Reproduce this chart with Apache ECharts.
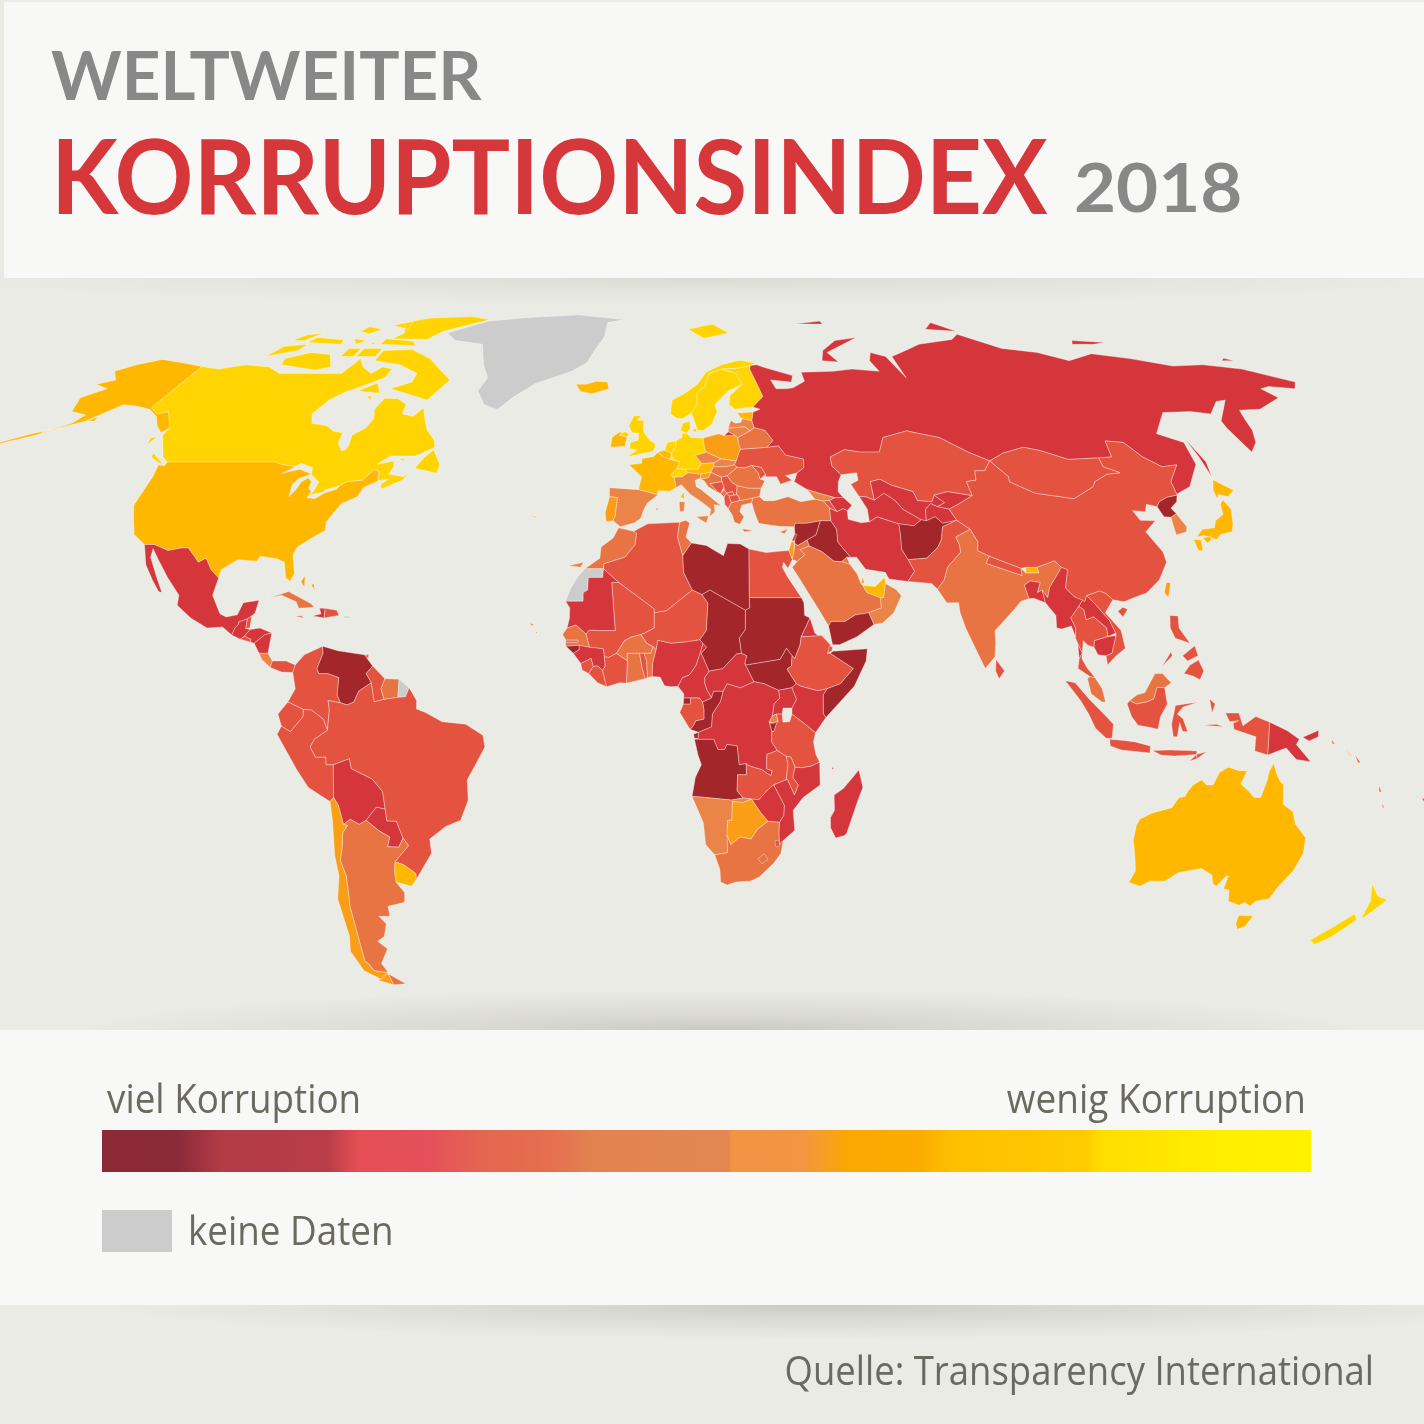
<!DOCTYPE html>
<html>
<head>
<meta charset="utf-8">
<title>Weltweiter Korruptionsindex 2018</title>
<script src="https://cdn.jsdelivr.net/npm/echarts@6/dist/echarts.min.js"></script>
<style>html,body{margin:0;padding:0;background:#ebebe5}#chart{width:1424px;height:1424px}</style>
</head>
<body>
<div id="chart"></div>
<script>
// index values by region
var americaNames = ['Canada','Alaska','United States','Mexico','Guatemala','Belize','El Salvador','Honduras','Nicaragua','Costa Rica','Panama','Cuba','Haiti','Dominican Rep.','Jamaica','Bahamas','Trinidad','Colombia','Venezuela','Guyana','Suriname','Ecuador','Peru','Bolivia','Paraguay','Brazil','Uruguay','Argentina','Chile'];
var americaScores = [81,71,71,28,27,37,35,29,25,56,37,47,20,30,44,65,41,36,18,37,43,34,35,29,29,35,70,40,67];
var europeNames = ['Iceland','Norway','Sweden','Finland','Denmark','United Kingdom','Ireland','France','Spain','Portugal','Belgium','Netherlands','Luxembourg','Germany','Switzerland','Austria','Italy','Poland','Czechia','Slovakia','Hungary','Slovenia','Croatia','Bosnia','Serbia','Kosovo','Montenegro','Albania','N. Macedonia','Greece','Bulgaria','Romania','Moldova','Ukraine','Belarus','Lithuania','Latvia','Estonia','Russia','Cyprus'];
var europeScores = [76,84,85,85,88,80,73,72,58,64,75,82,81,80,85,76,52,60,59,50,46,60,48,38,39,37,45,36,37,45,42,47,33,32,44,59,58,73,28,59];
var asiaNames = ['Georgia','Armenia','Azerbaijan','Turkey','Syria','Lebanon','Israel','Jordan','Iraq','Iran','Kuwait','Saudi Arabia','Qatar','UAE','Oman','Yemen','Kazakhstan','Turkmenistan','Uzbekistan','Kyrgyzstan','Tajikistan','Afghanistan','Pakistan','India','Nepal','Bhutan','Bangladesh','China','Taiwan','Mongolia','North Korea','South Korea','Japan','Myanmar','Laos','Thailand','Cambodia','Vietnam','Malaysia','Indonesia','Timor-Leste','Philippines','Sri Lanka'];
var asiaScores = [58,35,25,41,13,28,61,49,18,28,41,49,62,70,52,14,31,20,23,29,25,16,33,41,31,71,26,39,63,37,14,57,73,29,29,36,20,33,47,38,35,36,38];
var oceaniaNames = ['Australia','New Zealand','Papua New Guinea','Solomon Islands','Vanuatu','Fiji'];
var oceaniaScores = [77,87,28,44,46,39];
var africaNames = ['Morocco','Algeria','Tunisia','Libya','Egypt','Sudan','South Sudan','Eritrea','Ethiopia','Djibouti','Somalia','Kenya','Uganda','Tanzania','Rwanda','Burundi','DR Congo','Central African Rep.','Congo','Gabon','Eq. Guinea','Cameroon','Nigeria','Niger','Chad','Mali','Mauritania','Senegal','Gambia','Guinea-Bissau','Guinea','Sierra Leone','Liberia','Ivory Coast','Burkina Faso','Ghana','Togo','Benin','Angola','Zambia','Malawi','Mozambique','Zimbabwe','Namibia','Botswana','South Africa','Lesotho','Eswatini','Madagascar','Cape Verde','Comoros'];
var africaScores = [43,35,43,17,35,16,13,24,34,31,10,27,26,36,56,17,20,26,19,31,16,25,27,34,19,32,27,45,37,16,28,30,32,35,41,41,30,40,19,35,32,23,22,53,61,43,41,38,25,57,27];

// class limits and fills of the map
var classLimits = [0,20,30,40,50,60,70,80,100];
var classColors = ['#a3262b','#d4363b','#e4533f','#e97443','#eb8448','#fa9d17','#ffb700','#ffd400'];

// colour bar of the legend
var barStops = [0,0.062,0.1,0.186,0.212,0.271,0.316,0.37,0.409,0.518,0.521,0.579,0.618,0.677,0.703,0.814,0.825,0.932,1];
var barColors = ['#8e2a38','#8a2a38','#b33c46','#b83d48','#e54e55','#e5505a','#e5664f','#e56f4f','#e38450','#e38650','#f19445','#f29642','#fba800','#fbac00','#ffc000','#ffcb00','#ffdd00','#fff000','#fff200'];

// Robinson table, one row per 5 degrees
var robinsonLen = [1,.9986,.9954,.99,.9822,.973,.96,.9427,.9216,.8962,.8679,.835,.7986,.7597,.7186,.6732,.6213,.5722,.5322];
var robinsonDfe = [0,.062,.124,.186,.248,.31,.372,.434,.4958,.5571,.6176,.6769,.7346,.7903,.8435,.8936,.9394,.9761,1];
// the reference drifts to the right towards the poles, px per 5 degree row
var robinsonDrift = [0,0,0,0,0,0,2,3,5,6,8,10,13,17,17,17,17,17,17];

// country outlines, lon,lat pairs, "|" starts another polygon
var outlines = {
'Canada':'-141,69.6 -135,69 -128,70 -120,69.5 -115,68 -108,68 -102,68 -96,68 -94,71.5 -91,69.5 -87,68 -85,69.5 -81.5,69 -82,67 -87,65 -90,64 -93,62 -94.5,59 -92.5,57 -88,56.5 -85,55.3 -82.3,55 -82,53 -80,51.3 -79,51.5 -78.8,52.5 -79.5,54.5 -77,56 -76.5,58 -78,60 -77.5,62.4 -73.5,62.3 -70,61 -69.5,59 -66,58.5 -64.5,60.3 -62,57.5 -60,55.5 -57,53.5 -56,52 -60,50.2 -66.5,50.2 -69,48.5 -65,49.2 -64.5,48 -65,46.5 -61,46 -60,46.8 -61,45.3 -65.5,43.5 -66,44.5 -64.5,45.5 -67,45.2 -67.8,47.1 -69.2,47.4 -71,45.3 -74.7,45 -76,44.2 -79.5,43.3 -79.5,42.9 -83,42.3 -82,43 -81.7,45 -84.5,46.5 -85,47.8 -88.5,48.7 -89.5,48 -92,48.3 -94.5,48.7 -95,49 -123,49 -125,50 -130,54.5 -130,56 -135,59.5 -137.5,59 -141,60.3|-62,66.5 -65,62 -70,63 -78,64.5 -73,66 -73,68 -80,70 -89,71 -89,73.5 -80,73.7 -72,71.5 -67,69|-117,70 -105,68.8 -101,69.5 -105,72.5 -112,73 -118,71.5|-125,72 -117,73.5 -116,75 -123,74.5|-90,76.5 -78,76.3 -75,78.5 -62,82 -70,83 -85,82.5 -92,81 -88,78|-92,75 -80,74.7 -82,75.8 -92,76.5|-95,80 -88,79 -90,81.5|-117,75.5 -105,75 -106,76.2 -116,76.8|-96,72 -90,72 -90,74 -96,74|-87,64 -80,63.5 -83,65.8|-59,47.7 -53,46.7 -53,48.5 -56,51.5 -57.5,50|-128.3,50.8 -123.5,48.4 -125.5,49 -128,50|-101,72 -97,72 -97,74 -101,74|-104,78.5 -100,77.8 -97,79 -103,79.7|-123,76 -119,76 -116,78 -121,77.5|-100,75 -98,76 -103,76.5|-96,75 -94,75 -94,75.7|-83,62.5 -81,62.2 -82,63|-64,49.5 -62,49.2 -63,49.7|-132.5,54 -131,54 -132,52.5',
'Alaska':'-141,69.6 -148,70.4 -156.5,71.3 -162,70 -166,68.5 -162,66.5 -166,65.5 -161,64.5 -165,62.5 -162,59.5 -157,58.8 -158,57 -163,55 -155,57.5 -152,59.5 -150,61 -146,60.7 -141,60 -137,58.5 -134,56.5 -131,55 -130,56 -135,59.5 -137.5,59 -141,60.3|-159,56 -165,54.2 -172,52.5 -172,52.8 -165,54.9|-154.5,57.5 -152.5,57.5 -153,58.4',
'United States':'-123,49 -95,49 -94.5,48.7 -92,48.3 -89.5,48 -92,46.7 -88,47.5 -85,46.7 -84.5,46.5 -87,45.7 -88,44.5 -87.5,42 -86.5,43.5 -86,45 -84.8,45.8 -83.5,45 -83.5,43.7 -82.5,43 -83,41.8 -81,41.6 -79,42.8 -76.5,43.5 -76,44.2 -74.7,45 -71,45.3 -69.2,47.4 -67.8,47.1 -67,45.2 -70,43.8 -70.7,42 -74,40.6 -75.5,38 -76,36.9 -75.5,35.3 -78,33.9 -81,32 -81.5,30.5 -80,26.8 -80.5,25.2 -81.8,26 -83,29 -85,29.7 -89,30.2 -89.5,29.2 -94,29.5 -97.2,27.5 -97.2,25.9 -99.5,27.5 -101.5,29.8 -103,29 -104.8,30.5 -106.5,31.8 -108.2,31.8 -111,31.3 -114.8,32.5 -117.1,32.5 -120.5,34.5 -122.5,37.5 -124.3,40.3 -124,46 -124.7,48.4 -123,48.2',
'Greenland':'-73,78 -68,76 -58,75 -54,70 -51,67 -52,64 -48,61 -43.5,59.9 -41,62.5 -36,65.7 -26,68.5 -22,70.5 -20,74 -18,77 -18,81 -12,82 -30,83.6 -50,82.6 -62,81.5 -65,80.5',
'Iceland':'-24,65.5 -22,63.9 -18.5,63.4 -14,64.5 -14.7,66 -18,66.2 -21,65.5',
'Mexico':'-117.1,32.5 -114.8,32.5 -111,31.3 -108.2,31.8 -106.5,31.8 -104.8,30.5 -103,29 -101.5,29.8 -99.5,27.5 -97.2,25.9 -97.8,22.5 -95.5,18.8 -94,18.2 -91.5,18.6 -90.5,21 -87,21.5 -87.5,19 -88.2,18.4 -89.1,17.8 -91,17.2 -90.9,16.8 -91.7,16 -92.2,14.6 -94.5,16.2 -98,16 -102,18 -105.5,20.5 -105.5,22.5 -109,26 -112.5,29.5 -114.7,31.7 -114.5,30 -111.5,26 -109.5,23 -110.3,23.2 -112.3,25.5 -115,28.5 -116,30.5',
'Guatemala':'-92.2,14.6 -91.7,16 -90.9,16.8 -91,17.2 -89.1,17.8 -89.2,15.9 -88.2,15.7 -89.3,14.4 -90.2,13.8',
'Belize':'-89.1,17.8 -88.2,18.4 -88.3,16 -89.2,15.9',
'El Salvador':'-90.2,13.8 -89.3,14.4 -87.8,13.8 -87.8,13.2',
'Honduras':'-89.3,14.4 -88.2,15.7 -86,16 -83.2,15 -84.7,14.7 -87,13 -87.8,13.2 -87.8,13.8',
'Nicaragua':'-87,13 -84.7,14.7 -83.2,15 -83.7,11 -85.7,11',
'Costa Rica':'-85.7,11 -83.7,11 -82.6,9.5 -83,8.2 -85,9.8',
'Panama':'-83,8.2 -82.6,9.5 -79.5,9.5 -77.4,8.7 -77.9,7.2 -80.4,7.3',
'Cuba':'-85,21.9 -80.5,23.2 -75,20.8 -74.2,20.1 -77.7,19.9 -78.5,21.2 -82,22.5',
'Haiti':'-74.4,18.4 -71.7,18 -71.7,19.9 -73,19.9 -72.5,18.8',
'Dominican Rep.':'-71.7,18 -68.4,18.5 -69,19.5 -71.7,19.9',
'Jamaica':'-78.3,18.3 -76.2,18 -77,18.5',
'Bahamas':'-78,25.2 -77,24 -77.4,26.4|-75.5,24.5 -74.5,23.4 -75,24.8',
'Puerto Rico':'-67.2,18.4 -65.7,18.3 -65.9,18 -67.2,18',
'Trinidad':'-61.8,10.7 -61,10.8 -61,10.1 -61.8,10.1',
'Colombia':'-77.4,8.7 -75.5,10.7 -71.5,12.4 -71.3,11 -72.5,8 -72,7 -70,7 -67.5,6.2 -67.8,2.8 -67,1.2 -69.8,1.7 -69.5,-0.2 -70,-4.2 -70.9,-2 -73.5,-0.2 -75.3,-0.1 -78.8,1.4 -77.2,4 -77.9,7.2',
'Venezuela':'-71.5,12.4 -68,11.5 -62,10.7 -60,8.5 -61.4,7 -60.2,5.2 -63,3.5 -64,1.4 -65.5,0.8 -67,1.2 -67.8,2.8 -67.5,6.2 -70,7 -72,7 -72.5,8 -71.3,11',
'Guyana':'-60,8.5 -57.2,6 -58,4 -57.3,1.9 -59.5,1.4 -60,4 -60.2,5.2 -61.4,7',
'Suriname':'-57.2,6 -54,5.9 -54.2,2.3 -57.3,1.9 -58,4',
'French Guiana':'-54,5.9 -51.7,4.2 -52.5,2.4 -54.2,2.3',
'Ecuador':'-78.8,1.4 -75.3,-0.1 -75.4,-1.5 -78.3,-4.5 -80.3,-3.4 -81,-1',
'Peru':'-75.3,-0.1 -73.5,-0.2 -70.9,-2 -70,-4.2 -73,-6 -74,-7.5 -72.9,-9.5 -70.6,-9.5 -70.6,-11 -69,-11 -69.3,-15.5 -69.5,-17.5 -70.4,-18.3 -75,-15.5 -77.3,-12 -81.3,-5 -80.3,-3.4 -78.3,-4.5 -75.4,-1.5',
'Bolivia':'-69,-11 -65.3,-9.8 -65,-11.8 -60.5,-13.8 -58.3,-16.3 -58,-19.8 -60,-19.4 -62.6,-22 -64.3,-22.8 -66.2,-21.8 -67.9,-22.8 -68.6,-19 -69.5,-17.5 -69.3,-15.5',
'Paraguay':'-58,-19.8 -57.9,-22.1 -55.7,-22.2 -54.6,-25.5 -56,-27.3 -58.6,-27.2 -57.6,-25.3 -60,-24 -62.6,-22 -60,-19.4',
'Brazil':'-51.7,4.2 -50,1.7 -50,0 -48,-0.7 -44.3,-2.5 -39,-3 -35.2,-5.2 -34.8,-7.5 -37,-11 -39,-14 -39,-18 -41,-22 -44.5,-23.2 -48.5,-25.7 -48.7,-28.5 -52.1,-32.2 -53.5,-33.7 -53.3,-32.5 -55.7,-30.8 -57.6,-30.2 -53.7,-27 -54.6,-25.5 -55.7,-22.2 -57.9,-22.1 -58,-19.8 -58.3,-16.3 -60.5,-13.8 -65,-11.8 -65.3,-9.8 -69,-11 -70.6,-11 -70.6,-9.5 -72.9,-9.5 -74,-7.5 -73,-6 -70,-4.2 -69.5,-0.2 -69.8,1.7 -67,1.2 -65.5,0.8 -64,1.4 -63,3.5 -60.2,5.2 -60,4 -59.5,1.4 -57.3,1.9 -54.2,2.3 -52.5,2.4',
'Uruguay':'-57.6,-30.2 -55.7,-30.8 -53.3,-32.5 -53.5,-33.7 -54.9,-35 -58.4,-34.2 -58.2,-32',
'Argentina':'-66.2,-21.8 -64.3,-22.8 -62.6,-22 -60,-24 -57.6,-25.3 -58.6,-27.2 -56,-27.3 -54.6,-25.5 -53.7,-27 -57.6,-30.2 -58.2,-32 -58.4,-34.2 -57,-36.3 -57.7,-38.2 -62,-39 -62.3,-41 -65,-41 -63.8,-42.5 -65.3,-45 -67.5,-46 -65.8,-47.5 -69,-50.5 -68.4,-52.4 -71.9,-52 -72.3,-50.7 -73,-50 -71.8,-44.5 -71.2,-39 -70.4,-36.2 -69.8,-33 -70.3,-30 -69,-27 -68.3,-24.5 -67,-23 -67.9,-22.8|-68.6,-52.6 -65.2,-54.7 -68.6,-54.9',
'Chile':'-69.5,-17.5 -68.6,-19 -67.9,-22.8 -67,-23 -68.3,-24.5 -69,-27 -70.3,-30 -69.8,-33 -70.4,-36.2 -71.2,-39 -71.8,-44.5 -73,-50 -72.3,-50.7 -71.9,-52 -68.4,-52.4 -71,-53.8 -74.5,-52 -75.5,-48 -74,-45 -73.7,-41 -73.5,-37.5 -71.5,-33 -71.3,-29 -70.3,-22 -70.4,-18.3|-68.6,-52.6 -68.6,-54.9 -72,-54 -70,-53',
'Norway':'5,59 7,58 8.5,58 10.8,59.2 12.2,61 12,63.5 14,65 16,68 20,69 25,69.2 29,69.8 31,70.4 26,71.1 20,70 15,68.3 12,65.5 8,63.3 5,62|11,79 16,76.6 25,78 20,80.5',
'Sweden':'10.8,59.2 12.8,55.5 14.3,55.5 16.5,56.8 18,59.5 17.2,61 21,64 25.3,65.5 24,68 20,69 16,68 14,65 12,63.5 12.2,61',
'Finland':'20,69 24,68 25.3,65.5 21.5,63 21.3,61 23,60 28,60.5 31,62.8 29.5,66 28.5,69 29,69.8 25,69.2',
'Denmark':'8.1,55.5 8.6,57 10.5,57.5 10.8,56 9.8,54.9|11.2,55.6 12.5,56 12.3,55',
'United Kingdom':'-5.5,50 1.3,51.2 1.7,52.7 0,53.5 -1.5,55 -2,56 -2,57.6 -4,57.7 -3,58.6 -5,58.6 -6,56.5 -4.8,55 -3,54.9 -3,53.5 -5,53 -5,51.7 -3,51.4|-8,54.5 -6,54.1 -5.6,54.7 -6.5,55.2 -7.5,55',
'Ireland':'-10,52 -6.3,52.2 -6,54.1 -8,54.5 -7.5,55.2 -8.5,55 -10,54',
'France':'-1.8,43.4 -1.2,46 -4.7,48.4 -1.5,48.7 -1.5,49.7 1.5,50.1 2.5,51 4.1,50 5.8,49.5 8.2,49 7.6,47.6 6,46.3 7,45.9 7.5,43.8 6,43.1 3,43.2 3.1,42.4|8.6,42 9.5,41.5 9.5,43',
'Spain':'-9,43.8 -1.8,43.4 3.1,42.4 0.5,40.7 -0.3,39.3 -0.8,37.7 -2.2,36.8 -5.5,36 -7.4,37.2 -7,38.2 -7,39.7 -6.8,41.8 -8.8,42|2.5,39.5 3.4,39.8 3,39.3|-17,28.3 -13.5,29 -14,28',
'Portugal':'-8.8,42 -6.8,41.8 -7,39.7 -7,38.2 -7.4,37.2 -9,37 -9.5,38.8|-28,38.5 -26,37.8 -26,38|-17,32.8 -16.6,32.7 -16.8,32.5',
'Belgium':'2.5,51 4.2,51.4 6,50.8 5.8,49.5 4.1,50',
'Netherlands':'4.2,51.4 4.8,53 7,53.3 7,52 6,50.8',
'Luxembourg':'5.8,49.5 6.4,49.5 6.1,50.1',
'Germany':'6,50.8 7,52 7,53.3 8.6,54 8.6,54.9 9.8,54.9 11,54 14.2,53.9 14.6,51.8 15,51 12.2,50.3 13.8,48.7 13,47.5 9.6,47.5 7.6,47.6 8.2,49 6.4,49.5',
'Switzerland':'6,46.3 7.6,47.6 9.6,47.5 10.4,46.8 9,46 7,45.9',
'Austria':'9.6,47.5 13,47.5 13.8,48.7 17,48.8 16.9,48 16.2,46.9 13.7,46.5 10.4,46.8',
'Italy':'7,45.9 9,46 10.4,46.8 13.7,46.5 13.6,45.7 12.3,45.3 12.5,44 13.6,43.5 16,41.9 18.5,40.2 16.8,40.4 17,39 15.7,38 16,39.5 14,40.8 11,42.5 8.8,44.4 7.5,43.8|12.5,38 15.5,38.2 15,36.7|8.3,41 9.7,41 9.5,39.1 8.5,39',
'Poland':'14.2,53.9 18.5,54.8 19.8,54.4 22.8,54.4 23.4,54 23.6,52.6 24,51.6 23.6,51 22.7,49.2 18.8,49.6 15,51 14.6,51.8',
'Czechia':'12.2,50.3 15,51 18.8,49.6 17,48.8 13.8,48.7',
'Slovakia':'18.8,49.6 22.7,49.2 22.2,48.4 20,48 16.9,48 17,48.8',
'Hungary':'16.9,48 20,48 22.2,48.4 22.9,47.9 20.3,46.2 18.8,45.9 16.2,46.9',
'Slovenia':'13.7,46.5 16.2,46.9 15.6,45.8 13.6,45.5',
'Croatia':'13.6,45.5 14.5,45.2 15.5,44 17.5,43 18.5,42.6 17.7,43 16,44.6 19,45 18.8,45.9 16.2,46.9 15.6,45.8',
'Bosnia':'16,44.6 19,45 19.4,44 18.5,42.6 17.7,43',
'Serbia':'19,45 18.8,45.9 20.3,46.2 21.5,44.8 22.7,44.2 22.4,42.4 21.7,42.3 21.5,43 20,42.7 19.4,43.4 19.4,44',
'Kosovo':'20,42.7 21.5,43 21.7,42.3 20.6,42.1',
'Montenegro':'18.5,42.6 19.4,43.4 20,42.7 19.3,41.9',
'Albania':'19.3,41.9 20,42.7 20.6,42.1 21,40.8 20.2,39.6 19.4,40.5',
'N. Macedonia':'20.6,42.1 21.7,42.3 22.4,42.4 23,42 23,41.2 21,40.8',
'Greece':'20.2,39.6 21,40.8 23,41.2 26.3,41.7 26,40.8 23.5,40.3 23,39 24,38 23,36.5 21.7,36.9 21.2,38.3|23.6,35.6 26.3,35.2 24,35',
'Bulgaria':'22.7,44.2 25.5,43.7 28.6,43.7 28,42 26.3,41.7 23,41.2 23,42 22.4,42.4',
'Romania':'20.3,46.2 22.9,47.9 24.8,47.8 26.6,48.3 28.2,46.7 28.5,45.5 29.7,45.2 28.6,43.7 25.5,43.7 22.7,44.2 21.5,44.8',
'Moldova':'26.6,48.3 29,47.9 30,46.5 28.5,45.5 28.2,46.7',
'Ukraine':'23.6,51 24,51.6 31,52 34,52.3 35.5,50.4 40,49.6 39.8,47.8 38,46.8 35,46.2 36.5,45.3 33.5,44.5 32.7,46 30,46 30,46.5 29,47.9 26.6,48.3 24.8,47.8 22.9,47.9 22.2,48.4 22.7,49.2',
'Belarus':'24,51.6 23.6,52.6 23.4,54 26.8,55.4 28,56.1 30.9,55.5 32.7,53.4 31,52',
'Lithuania':'21,56 21,55.2 22.8,54.4 23.4,54 26.8,55.4 25.5,56.3',
'Latvia':'21,56 25.5,56.3 26.8,55.4 28,56.1 27.5,57.6 25,58 24.4,57.2 23,57 21.7,57.6',
'Estonia':'23.5,59.2 28,59.4 27.5,57.6 25,58 24.4,58.3',
'Russia':'27.5,57.6 28,59.4 30,60 28,60.5 31,62.8 29.5,66 28.5,69 29,69.8 31,70 33,69.4 41,67.5 40,66 34,66.5 35,64.5 38,64.5 40,64.7 44,66.2 44,68.3 54,68.5 60,69 68,68.5 67,71 69,73 73,72 75,67 75,72 81,73.5 87,75 100,76.3 104,77.7 113,74 123,73 130,71 140,72.7 150,71.5 160,69.7 170,70 180,69 190,66 187,64.5 180,65 177,64.5 179,62.5 170,60 164,59.8 163,58 162,55.5 160,53 156.7,51 155.7,56 156,57.5 163,62 160,61.7 155,59 150,59.5 142,59.3 135.5,54.8 141,53 140,48.5 135,44 131,42.6 130.7,42.3 131,45 135,48.4 131,48 127.5,50 125,53 120.5,53.3 119.5,50 116,49.8 108,49.5 102,51.3 98,52 92,50.8 87.7,49.2 83,51 77,54 71,55 69,55.4 62,54 60,51 55,51 51,51.5 47,50 47,48.2 49,46.4 48,45 47.5,43 48.6,41.8 46.5,41.8 43.5,42.5 40,43.4 37,45 38,46.8 39.8,47.8 40,49.6 35.5,50.4 34,52.3 31,52 32.7,53.4 30.9,55.5 28,56.1|19.8,54.4 22.8,54.4 21,55.2|52,71 57,70.7 55,73 68,76.8 60,76 54,73.5|142,54 143,49 142,46 142,50|95,79 105,78.5 100,81|138,75 145,75 150,75.5 140,76|50,80.5 60,80.5 60,81.5|178,71 182,71 180,71.6',
'Cyprus':'32.4,35 34.5,35.6 33.5,34.6',
'Georgia':'40,43.4 43.5,42.5 46.5,41.8 45,41.2 43.5,41.1 41.5,41.5',
'Armenia':'43.5,41.1 45,41.2 46.5,39 44.8,39.7',
'Azerbaijan':'46.5,41.8 48.6,41.8 50.3,40.3 49,39.2 48,39.6 46.5,39 45,41.2',
'Turkey':'26,40.8 26.3,41.7 28,42 29,41.2 31.5,41.2 35,42 38,41 41.5,41.5 43.5,41.1 44.8,39.7 44.8,37.2 42.3,37.2 39,36.7 36.2,36.7 36,36 32.5,36.1 30.5,36.3 27.5,36.7 26.5,39',
'Syria':'36,36 36.2,36.7 39,36.7 42.3,37.2 41,34.4 38.8,33.4 36.5,32.3 35.8,32.7 36,34.6',
'Lebanon':'35.1,33.1 35.8,33.3 36.5,34.5 36,34.6',
'Israel':'34.3,31.3 35.1,33.1 35.7,33 35.5,31 35,29.5',
'Jordan':'35,29.5 35.5,31 35.8,32.7 36.5,32.3 38.8,33.4 39.2,32.2 37,31.5 38,30.5 36.2,29.2',
'Iraq':'38.8,33.4 41,34.4 42.3,37.2 44.8,37.2 46,35.5 46,33 47.7,31 48.6,30 47.7,30 46.5,29.1 44.7,29.2 42,31.1 39.2,32.2',
'Iran':'44.8,39.7 46.5,39 48,39.6 49,39.2 49,37.5 52,36.8 54,37 56,38 61,36.6 61,34.5 60.8,31.5 62,29.5 63.3,27.2 61.6,25.2 57.3,25.7 56.5,27 52,27.6 50,30 48.6,30 47.7,31 46,33 46,35.5 44.8,37.2',
'Kuwait':'47.7,30 48.4,28.6 46.5,29.1',
'Saudi Arabia':'36.2,29.2 38,30.5 37,31.5 39.2,32.2 42,31.1 44.7,29.2 46.5,29.1 48.4,28.6 50,26.7 50.8,24.7 51.2,24.4 52,23 55,22 55,20 52,19 49,18.6 46.5,17.3 43.3,17.3 42.7,16.4 40.8,19.5 38.5,23 36.5,26 35,28',
'Qatar':'50.8,24.7 51.6,25 51.2,26.1',
'UAE':'51.2,24.4 54,24.2 56.3,26 56.4,24.8 55.7,22 55,22 52,23',
'Oman':'55.7,22 56.4,24.8 58.7,23.6 59.8,22.4 57.7,19 55,17 53,16.7 52,19 55,20 55,22',
'Yemen':'43.3,17.3 46.5,17.3 49,18.6 52,19 53,16.7 49,14.3 45,12.7 43.4,12.7 42.7,16.4',
'Kazakhstan':'47,50 51,51.5 55,51 60,51 62,54 69,55.4 71,55 77,54 83,51 87.7,49.2 85.5,47.2 83,47.2 82.5,45.3 80,45 80.3,42.2 74.5,43 71,42.3 70,41 66.5,41.2 66,43 61,44.3 58.5,45.5 56,45 56,41.3 54,42 52.5,42 51,44.5 53,45.3 53,46.8 49,46.4 47,48.2',
'Turkmenistan':'52.5,42 54,42 56,41.3 58.7,42.7 61,41.3 62.5,39.5 66.5,37.4 64.5,36.2 61,36.6 56,38 54,37 53.9,39.5',
'Uzbekistan':'56,45 58.5,45.5 61,44.3 66,43 66.5,41.2 70,41 71,42.3 73,40.8 71,40 69.5,40.6 68,39.5 67.7,37.2 66.5,37.4 62.5,39.5 61,41.3 58.7,42.7 56,41.3',
'Kyrgyzstan':'71,42.3 74.5,43 80.3,42.2 76,40.4 73.7,39.5 71,40 73,40.8',
'Tajikistan':'68,39.5 69.5,40.6 71,40 73.7,39.5 75,37.3 71.5,36.7 70,38 67.7,37.2',
'Afghanistan':'61,36.6 64.5,36.2 66.5,37.4 67.7,37.2 70,38 71.5,36.7 75,37.3 71.3,36 70.5,33.5 69.3,31.9 66.3,29.8 62,29.5 60.8,31.5 61,34.5',
'Pakistan':'61.6,25.2 63.3,27.2 62,29.5 66.3,29.8 69.3,31.9 70.5,33.5 71.3,36 75,37.3 77.8,35.5 74,34 74.5,32.5 74.5,31 71,28 70,25.5 68.2,23.7 67,24.8',
'India':'68.2,23.7 70,25.5 71,28 74.5,31 74.5,32.5 74,34 77.8,35.5 79,33 78.5,31.3 81,30.2 80,28.8 88,26.4 88,27.8 88.9,26.9 92,26.9 91.7,28 96,29.3 97.4,28 94,24 93.2,22 92.2,23.5 91,23 92,25 89.8,25.3 88.3,24.5 88.9,21.8 87,21.3 85,19.5 80.3,15.5 80.2,13 79.8,10.3 77.5,8 76,11 73.7,16 72.8,19 72.7,21 70,21 69,22.5',
'Nepal':'81,30.2 80,28.8 88,26.4 88,27.8',
'Bhutan':'88.9,26.9 92,26.9 91.7,28 89.2,28',
'Bangladesh':'88.3,24.5 89.8,25.3 92,25 91,23 92.2,23.5 92.5,21 90,21.9 88.9,21.8',
'China':'73.7,39.5 76,40.4 80.3,42.2 80,45 82.5,45.3 83,47.2 85.5,47.2 87.7,49.2 91,46 90.7,45 96,42.7 105,41.6 111,44 112,45 116,46.5 119.5,46.8 116,48 116,49.8 119.5,50 120.5,53.3 125,53 127.5,50 131,48 135,48.4 131,45 130.7,42.3 128,41.9 125.5,41 124.3,40 122,40.5 121,39 118,39.2 119,37.3 122.6,37.2 119.3,35 121.8,31 122,29 119.5,25.5 116,22.9 113.5,22.2 110.5,21.2 108,21.6 106.7,22.8 105.3,23.3 102.2,22.4 101.5,21.2 99.3,22.2 97.6,23.9 98.7,27.5 97.4,28 96,29.3 91.7,28 89.2,28 88,27.8 81,30.2 78.5,31.3 79,33 77.8,35.5 75,37.3|108.7,19.3 110,20.1 111,19.7 109.7,18.2',
'Taiwan':'121,25 122,25 120.8,22 120.1,23',
'Mongolia':'87.7,49.2 92,50.8 98,52 102,51.3 108,49.5 116,49.8 116,48 119.5,46.8 116,46.5 112,45 111,44 105,41.6 96,42.7 90.7,45 91,46',
'North Korea':'124.3,40 125.5,41 128,41.9 130.7,42.3 129.7,41 127.5,39.7 128.3,38.6 126.7,37.9 125,38',
'South Korea':'126.7,37.9 128.3,38.6 129.5,36 129,35 126.3,34.4 126.5,37',
'Japan':'130.9,34 133,35.5 136,35.8 137,37.2 139.5,38.5 140,40.5 141.3,41.4 142,39.5 140.8,36.5 139.8,35 136.8,34.5 135.5,33.5 132.8,34.3|130,33.5 131.7,33.4 131.3,31.3 130.2,31.3|132.3,33.8 134.5,34.2 134,33.3 133,32.8|140,41.5 140.3,43.3 141.8,45.4 145.3,43.3 143,42 141,42.5',
'Myanmar':'92.5,21 92.2,23.5 93.2,22 94,24 97.4,28 98.7,27.5 97.6,23.9 99.3,22.2 101.1,21.5 100,20.3 97.8,18 98.6,16 98.3,14 99.5,11 98.7,10 98.7,13 97.7,16.4 95.4,15.8 94.3,16 94.5,18.5',
'Laos':'101.5,21.2 102.2,22.4 104,20.5 106.5,17.5 107.5,15 105.6,14.3 105.6,16 103,18.2 101.2,17.6 101,19.6 100,20.3 101.1,21.5',
'Thailand':'100,20.3 101,19.6 101.2,17.6 103,18.2 105.6,16 105.6,14.3 102.5,13.5 102.3,12.2 100.9,12.6 100,13.5 99.3,10 100.3,8.2 102,6.2 100.9,6.4 98.3,8 98.7,10 99.5,11 98.3,14 98.6,16 97.8,18',
'Cambodia':'102.5,13.5 105.6,14.3 107.5,14.5 106.2,11 104.8,10.5 103,10.7 102.3,12.2',
'Vietnam':'102.2,22.4 105.3,23.3 106.7,22.8 108,21.6 105.8,19 108.8,15.5 109.3,12 106.8,10.3 105,8.7 104.8,10.5 106.2,11 107.5,14.5 107.5,15 106.5,17.5 104,20.5',
'Malaysia':'100.9,6.4 102,6.2 103.5,4 104.2,1.4 103.4,1.4 101,3 100.3,6|109.6,1.7 111.3,2.8 113,3.2 115.5,7 117.2,7 119,5.2 117.5,4.2 115.8,4.3 115,2 113.5,1.4 111,1',
'Indonesia':'109,1 109.6,1.7 111,1 113.5,1.4 115,2 115.8,4.3 117.5,4.2 118,1 116.5,-1.5 116,-4 114,-3.6 111.5,-3.2 110,-1.5|95.3,5.6 97.5,5.2 100.5,2 103.8,-1 106,-3 105.8,-5.8 104.5,-5.8 102,-3.8 100.4,-1 98.6,1.7|105.3,-6 108.5,-6.2 111,-6.5 114.5,-7.3 114.5,-8.7 108,-8.1 105.5,-7.3|119.5,-5.5 119,-3 119.8,0.7 122,1 125,1.4 121.5,0.4 120.2,-1 121.5,-1.9 122.7,-4.5 121.5,-4.4 120.8,-2.7 120.4,-5.5|115,-8.2 119,-8.1 122.8,-8.2 125,-8.3 125,-9 120,-9.3 117,-9.1|123.5,-10.3 125,-9 125.2,-9.8|127.5,2 128.7,1 128,-0.8|126,-3.2 130.8,-3.5 129,-3|131,-0.8 134,-0.8 135,-3.3 137.8,-1.5 141,-2.6 141,-9.1 138,-8.3 138,-5.5 133,-4 132.8,-2.8 134,-2.3 132,-2.5',
'Timor-Leste':'125,-9 127.3,-8.4 125.2,-9.8',
'Philippines':'120.4,18.5 122.2,18.4 122,16 124,13 120.8,14 120,16|122,7 123.5,8.7 125.5,9.7 126.5,7.5 125.5,5.8 124,6.5|122,10.5 125,12.5 125.5,10.5 123,9.5|117.2,8.4 119.5,11.3 119.7,10.5',
'Sri Lanka':'80,9.8 81.8,7.5 80.5,6 79.8,7.5',
'Australia':'113.6,-26 113.7,-23 114.2,-21.8 116.7,-20.6 119,-20 121,-19.5 122.3,-17.5 123.6,-17.3 124,-16.3 125,-15 126.8,-14 128,-15 129.5,-15 130.6,-12.5 132.5,-11.5 135,-12.2 136.8,-12.2 135.7,-14.8 137.5,-16 139.3,-17.5 140.8,-17.5 141.6,-14 141.7,-12.5 142.5,-10.7 143.5,-12.8 144.5,-14.3 145.4,-15 146.2,-18.8 148.8,-20.3 150,-22.7 151.5,-24 153.2,-25.5 153.6,-28.6 152.7,-32 150.8,-35 150,-37.5 147,-38 146.3,-39 144.5,-38.2 143.5,-38.8 140.5,-38 139.5,-35.8 138,-35.5 138,-33 137.5,-33 136,-35 135,-34.5 134,-32.8 131,-31.5 126,-32.3 123.5,-34 120,-34 118,-35 115,-34.3 115.7,-32 114.9,-30 114,-27|144.7,-40.8 148.3,-40.9 148,-43 146.5,-43.6 145.3,-42.5',
'New Zealand':'172.7,-34.5 174.5,-36 175.8,-37 178.5,-37.7 177,-39.5 175.3,-41.6 174.7,-39.6 174.7,-38|172.7,-40.5 174.3,-41.7 172.5,-43.7 171,-45.3 168.5,-46.6 166.5,-45.8 170,-43',
'Papua New Guinea':'141,-2.6 145,-4.3 147.8,-6 147.2,-7 150.8,-10.4 147.5,-10 145,-7.7 143.5,-8.2 141,-9.1|148.5,-5.6 152,-4.2 152,-5.5 150,-6.3',
'Solomon Islands':'155,-6 155.8,-6.8 155.3,-7|158,-7.5 160,-9.5 159.5,-9.2|160.5,-9 162,-10.5 161.5,-10.7',
'Vanuatu':'167,-15 168,-16.5 167.3,-16.3|168.5,-18.5 169.4,-19.5 169,-19.5',
'Fiji':'177.3,-17.5 178.7,-18 178,-18.3',
'Morocco':'-5.9,35.8 -2.2,35.1 -1.5,34.7 -1.7,32.5 -4,30 -8.7,28.7 -8.7,27.7 -13,27.7 -9.8,29.8 -9.7,32 -7,33.8',
'Western Sahara':'-13,27.7 -8.7,27.7 -8.7,26 -12,26 -12,23.5 -13,23 -13,21.3 -17,21.3 -16,23.7 -14.5,26.1',
'Algeria':'-2.2,35.1 1,36.6 8.6,36.9 8.2,34 9.5,30.3 9.9,27 12,23.5 6,19.4 3.2,19 3.2,19.8 -4.9,25 -8.7,27.7 -8.7,28.7 -4,30 -1.7,32.5 -1.5,34.7',
'Tunisia':'8.6,36.9 10,37.3 11,36.8 10.2,34 11.5,32.8 9.5,30.3 8.2,34',
'Libya':'11.5,32.8 15,32.3 19,30.3 20,32.7 23,32.6 25,31.6 25,22 25,20 24,19.5 16,23.5 14.2,22.6 12,23.5 9.9,27 9.5,30.3',
'Egypt':'25,31.6 29,30.9 32.5,31.2 34.3,31.3 35,29.5 34,27.8 33,29 32.7,28 34,26 36.9,22 25,22',
'Sudan':'25,22 36.9,22 37.4,21 37.4,18.5 38.6,18 36.4,14.3 36.1,12.7 34.8,10 34.2,10.5 33,12 31.5,9.8 28,9.3 24,8.7 23.5,9 24,10.5 22.8,11 22.4,14 23.8,15.7 24,19.5 25,20',
'South Sudan':'23.5,9 24,8.7 28,9.3 31.5,9.8 33,12 34.2,10.5 34,8.5 33,7.9 35,5 34,4.2 31,3.7 27.8,5 25.5,5.4',
'Eritrea':'36.4,14.3 38.6,18 39.5,15 43,12.6 41,14.5 37.5,14.3',
'Ethiopia':'36.4,14.3 37.5,14.3 41,14.5 43,12.6 42.2,11 42.8,11 47.9,8 44.9,5 41.9,4 39.8,3.6 36,4.5 35,5 33,7.9 34,8.5 34.2,10.5 34.8,10 36.1,12.7',
'Djibouti':'42.7,12.5 43.4,12.2 43.2,11.5 42.2,11',
'Somalia':'42.8,11 43.4,11.4 51.2,11.9 50.8,9.5 48,4.5 41.6,-1.7 41,-0.9 41,2.8 41.9,4 44.9,5 47.9,8',
'Kenya':'36,4.5 39.8,3.6 41.9,4 41,2.8 41,-0.9 41.6,-1.7 39.3,-4.7 37.7,-3.5 34,-1 34,0.2 35,1.9 34,4.2 35,5',
'Uganda':'31,3.7 34,4.2 35,1.9 34,0.2 32,0.2 31.8,-1 30.5,-1 29.6,-1.4 30,1 31.3,2.2',
'Tanzania':'30.5,-1 31.8,-1 32,-2.6 33.5,-2.5 34,-1 37.7,-3.5 39.3,-4.7 38.9,-6.5 39.5,-9 40.4,-10.5 38.5,-11.3 36.5,-11.6 34.9,-11.5 33.9,-9.5 32.9,-9.4 30.8,-8.2 29.5,-6.5 29.5,-4.4 30,-4.4 30.5,-2.9 30.9,-2.4',
'Rwanda':'29.6,-1.4 30.5,-1 30.9,-2.4 29.9,-2.8 28.9,-2.5',
'Burundi':'29,-2.8 29.9,-2.8 30.9,-2.4 30.5,-2.9 30,-4.4 29.5,-4.4',
'DR Congo':'12.2,-6 13,-5.8 13.1,-4.6 16,-3.5 16.2,-1 18,1.5 18.6,3.5 19.5,5 22.5,4.2 25.5,5.4 27.8,5 31,3.7 31.3,2.2 30,1 29.6,-1.4 28.9,-2.5 29,-2.8 29.5,-4.4 29.5,-6.5 30.8,-8.2 28.5,-9 28.5,-11.8 29.8,-12.2 29.5,-13.2 27.5,-12 25.5,-11.5 24,-11 23.9,-10.8 22.3,-11 21.8,-7.3 19.5,-7 19,-8 17.5,-8 16.5,-6',
'Central African Rep.':'14.5,5 14.5,6.2 15.5,7.5 18.6,8 21.7,10.9 22.8,11 24,10.5 23.5,9 25.5,5.4 22.5,4.2 19.5,5 18.6,3.5 16.5,3.5 16,2.2 15,3.7',
'Congo':'11.2,-4 13.1,-4.6 16,-3.5 16.2,-1 18,1.5 18.6,3.5 16.5,3.5 16,2.2 14,1.4 14.3,-0.2 14.3,-2 12.5,-2.3 11.8,-3.5',
'Gabon':'8.9,-0.7 9.7,1 11.3,1 11.3,2.2 13.3,2.2 14,1.4 14.3,-0.2 14.3,-2 12.5,-2.3 11.8,-3.5 11.2,-4',
'Eq. Guinea':'9.7,1 11.3,1 11.3,2.2 9.8,2.2',
'Cameroon':'8.5,4.5 9.8,3 9.8,2.2 11.3,2.2 13.3,2.2 14,1.4 16,2.2 15,3.7 14.5,5 14.5,6.2 15.5,7.5 13.8,11 15,12.2 14.2,13 13.5,11 12.5,8.5 11,6.7 9.5,6.2 8.8,5',
'Nigeria':'2.7,6.4 4.5,6.3 5.5,4.6 7,4.4 8.5,4.5 8.8,5 9.5,6.2 11,6.7 12.5,8.5 13.5,11 14.2,13 13.5,13.7 10.5,13.3 7,13 4,13.6 3.6,11.7 2.8,9',
'Niger':'3.6,11.7 4,13.6 7,13 10.5,13.3 13.5,13.7 15,15.5 15.5,20.9 14.2,22.6 12,23.5 6,19.4 3.2,19 3.2,16 1,15 0.2,14.7 1.5,13 3,12.3',
'Chad':'14.2,22.6 16,23.5 24,19.5 23.8,15.7 22.4,14 22.8,11 21.7,10.9 18.6,8 15.5,7.5 13.8,11 15,12.2 14.2,13 13.5,13.7 15,15.5 15.5,20.9',
'Mali':'-4.9,25 3.2,19.8 3.2,19 3.2,16 1,15 0.2,14.7 -2,14.2 -3.5,13.5 -5.3,11 -7,10.2 -8,10.3 -8.3,11.9 -11.4,12.2 -12.2,14.8 -11.5,15.6 -9.4,15.5 -5.6,15.5 -6.5,25',
'Mauritania':'-17,21.3 -13,21.3 -13,23 -12,23.5 -12,26 -8.7,26 -8.7,27.7 -4.9,25 -6.5,25 -5.6,15.5 -9.4,15.5 -11.5,15.6 -12.2,14.8 -14.5,16.6 -16.5,16 -16,18 -16,20',
'Senegal':'-16.5,16 -14.5,16.6 -12.2,14.8 -11.4,12.2 -13.7,12.6 -16.7,12.4 -16.8,13.2 -14,13.2 -14,13.6 -16.7,13.6 -17.5,14.7',
'Gambia':'-16.8,13.2 -14,13.2 -14,13.6 -16.7,13.6',
'Guinea-Bissau':'-16.7,12.4 -13.7,12.6 -13.7,11.7 -15,11',
'Guinea':'-15,11 -13.7,11.7 -13.7,12.6 -11.4,12.2 -8.3,11.9 -8,10.3 -7.8,8.5 -8.4,7.6 -9.5,8.5 -10.5,8.4 -11,10 -13.3,9',
'Sierra Leone':'-13.3,9 -11,10 -10.5,8.4 -11.5,7 -13,7.7',
'Liberia':'-11.5,7 -10.5,8.4 -9.5,8.5 -8.4,7.6 -7.5,4.4 -9.5,5.2',
'Ivory Coast':'-7.5,4.4 -8.4,7.6 -7.8,8.5 -8,10.3 -7,10.2 -5.3,11 -2.8,9.5 -3,5.1 -4.5,5.2',
'Burkina Faso':'-5.3,11 -3.5,13.5 -2,14.2 0.2,14.7 1.5,13 3,12.3 2.4,11 0.9,11 -0.1,11 -2.9,11 -2.8,9.5',
'Ghana':'-3,5.1 1.2,6 0.5,8 -0.1,11 -2.9,11 -2.8,9.5',
'Togo':'1.2,6 1.7,6.2 1.5,9.5 0.9,11 -0.1,11 0.5,8',
'Benin':'1.7,6.2 2.7,6.4 2.8,9 3.6,11.7 3,12.3 2.4,11 0.9,11 1.5,9.5',
'Angola':'12.2,-6 16.5,-6 17.5,-8 19,-8 19.5,-7 21.8,-7.3 22.3,-11 23.9,-10.8 24,-13 22,-13 22,-16.2 23.4,-17.6 20.8,-18 13.8,-17.4 11.8,-17.3 12.5,-13.5 13.8,-11 13,-9|12,-5 13.1,-4.6 13,-5.8 12.2,-5.8',
'Zambia':'22,-13 24,-13 23.9,-10.8 24,-11 25.5,-11.5 27.5,-12 29.5,-13.2 29.8,-12.2 28.5,-11.8 28.5,-9 30.8,-8.2 32.9,-9.4 33.3,-11 33,-14 30.2,-15 28.9,-16 27,-17.9 25.3,-17.8 23.4,-17.6 22,-16.2',
'Malawi':'32.9,-9.4 33.9,-9.5 34.9,-11.5 34.5,-13.5 35.8,-15 35,-17 33.3,-14 33,-14 33.3,-11',
'Mozambique':'40.4,-10.5 40.7,-15 37,-17.5 34.9,-20 35.5,-24 32.9,-26 32,-26.8 31.9,-24.4 31.9,-22.4 32.8,-21 32.8,-19 30.2,-15 33,-14 33.3,-14 35,-17 35.8,-15 34.5,-13.5 34.9,-11.5 36.5,-11.6 38.5,-11.3',
'Zimbabwe':'25.3,-17.8 27,-17.9 28.9,-16 30.2,-15 32.8,-19 32.8,-21 31.9,-22.4 29.3,-22.2 27.5,-20.5',
'Namibia':'11.8,-17.3 13.8,-17.4 20.8,-18 23.4,-17.6 25.3,-17.8 23.4,-18.5 21,-18.3 21,-22 20,-22 20,-28.4 17,-28.8 15,-26.8 14.5,-22.5',
'Botswana':'21,-18.3 23.4,-18.5 25.3,-17.8 27.5,-20.5 29.3,-22.2 27,-23.7 25.5,-25.7 23,-25.3 20.8,-26.8 20,-25 20,-22 21,-22',
'South Africa':'17,-28.8 20,-28.4 20,-25 20.8,-26.8 23,-25.3 25.5,-25.7 27,-23.7 29.3,-22.2 31.9,-22.4 31.9,-24.4 32,-26.8 32.9,-26 32.4,-28.5 30.7,-30.5 27.5,-33.2 25.5,-34 22,-34.2 20,-34.8 18.4,-34.2 18.2,-31.7',
'Lesotho':'27,-29.6 28.5,-28.6 29.4,-29.7 28,-30.6',
'Eswatini':'31,-26 32,-26 32,-27.2 31.2,-27.2',
'Madagascar':'49.3,-12 50.4,-15.5 49.5,-18 47.5,-24.5 47,-25 45,-25.5 43.7,-23.5 43.5,-21.5 44.3,-20 44,-17 46,-15.7 48,-13.5',
'Cape Verde':'-25,17 -24,16.7 -24.5,16.4|-23.7,15.2 -23.2,15.2 -23.4,14.9',
'Comoros':'43.2,-11.4 43.6,-11.8 43.3,-12'
};

// picture scale of the map
var mapRadius = 301.8;
var mapCenterX = 640;
var mapEquatorY = 709;

function robinsonProject(point) {
    var lat = Math.min(Math.abs(point[1]), 89.99);
    var i = Math.floor(lat / 5);
    var t = lat / 5 - i;
    var len = robinsonLen[i] + (robinsonLen[i + 1] - robinsonLen[i]) * t;
    var dfe = robinsonDfe[i] + (robinsonDfe[i + 1] - robinsonDfe[i]) * t;
    var drift = robinsonDrift[i] + (robinsonDrift[i + 1] - robinsonDrift[i]) * t;
    var x = 0.8487 * mapRadius * len * point[0] * Math.PI / 180;
    var y = 1.3523 * mapRadius * dfe;
    return [mapCenterX + x + drift, mapEquatorY - (point[1] < 0 ? -y : y)];
}
function robinsonUnproject(pixel) {
    var lat = (mapEquatorY - pixel[1]) / 5.05;
    return [(pixel[0] - mapCenterX) / 4.47, lat];
}

function buildGeoJson() {
    var features = [];
    Object.keys(outlines).forEach(function (name) {
        var polys = outlines[name].split('|').map(function (part) {
            var ring = part.split(' ').map(function (pair) {
                return pair.split(',').map(Number);
            });
            ring.push(ring[0]);
            return [ring];
        });
        features.push({
            type: 'Feature',
            properties: { name: name },
            geometry: { type: 'MultiPolygon', coordinates: polys }
        });
    });
    return { type: 'FeatureCollection', features: features };
}

// the view must land on the same pixels the projection returns
function projectedBox(geo) {
    var box = [Infinity, Infinity, -Infinity, -Infinity];
    geo.features.forEach(function (f) {
        f.geometry.coordinates.forEach(function (poly) {
            poly[0].forEach(function (p) {
                var q = robinsonProject(p);
                box[0] = Math.min(box[0], q[0]);
                box[1] = Math.min(box[1], q[1]);
                box[2] = Math.max(box[2], q[0]);
                box[3] = Math.max(box[3], q[1]);
            });
        });
    });
    return box;
}

function seriesData() {
    var names = americaNames.concat(europeNames, asiaNames, oceaniaNames, africaNames);
    var values = americaScores.concat(europeScores, asiaScores, oceaniaScores, africaScores);
    return names.map(function (n, i) { return { name: n, value: values[i] }; });
}

function classPieces() {
    return classColors.map(function (c, i) {
        return { gte: classLimits[i], lt: classLimits[i + 1], color: c };
    });
}

function label(text, x, y, font, fill, scaleX, align) {
    return {
        type: 'text', x: x, y: y, scaleX: scaleX || 1, z: 10,
        style: { text: text, font: font, fill: fill, textAlign: align || 'left', textVerticalAlign: 'top' }
    };
}
function panel(x, y, w, h) {
    return {
        type: 'rect', z: 1,
        shape: { x: x, y: y, width: w, height: h },
        style: { fill: '#f8f8f6' }
    };
}
// soft oval glow behind a panel edge, a circle stretched sideways
function edgeShadow(cx, cy, rx, ry, alpha) {
    return {
        type: 'circle', z: 0, x: cx, y: cy, scaleX: rx / ry,
        shape: { cx: 0, cy: 0, r: ry },
        style: {
            fill: {
                type: 'radial', x: 0.5, y: 0.5, r: 0.5,
                colorStops: [
                    { offset: 0, color: 'rgba(70,70,60,' + alpha + ')' },
                    { offset: 0.35, color: 'rgba(70,70,60,' + alpha * 0.55 + ')' },
                    { offset: 1, color: 'rgba(70,70,60,0)' }
                ]
            }
        }
    };
}

var worldGeo = buildGeoJson();
echarts.registerMap('korruption', worldGeo);
var box = projectedBox(worldGeo);
var chart = echarts.init(document.getElementById('chart'));
var GREY = '#6b6a60';
var HEAD = '#888888';
chart.setOption({
    animation: false,
    backgroundColor: '#ebebe5',
    visualMap: [{ type: 'piecewise', show: false, seriesIndex: 0, pieces: classPieces() }],
    series: [{
        type: 'map',
        map: 'korruption',
        silent: true,
        projection: { project: robinsonProject, unproject: robinsonUnproject },
        left: box[0], top: box[1],
        width: box[2] - box[0], height: box[3] - box[1],
        label: { show: false },
        itemStyle: { areaColor: '#cccccc', borderColor: 'rgba(255,255,255,0.5)', borderWidth: 0.7 },
        data: seriesData()
    }],
    graphic: [
        edgeShadow(700, 278, 760, 26, 0.1),
        edgeShadow(720, 1030, 640, 40, 0.2),
        edgeShadow(820, 1305, 720, 34, 0.2),
        panel(4, 2, 1420, 276),
        panel(0, 1030, 1424, 275),
        label('WELTWEITER', 51, 46, '700 66px Lato', HEAD, 1.02),
        label('KORRUPTIONSINDEX', 51, 128, '700 104px Lato', '#d5373a', 0.94),
        label('2018', 1074, 158, '700 66px Lato', HEAD, 1.1),
        label('viel Korruption', 107, 1082, '40px "Open Sans"', GREY, 0.92),
        label('wenig Korruption', 1306, 1082, '40px "Open Sans"', GREY, 0.925, 'right'),
        {
            type: 'rect', z: 10,
            shape: { x: 102, y: 1130, width: 1209, height: 42 },
            style: {
                fill: {
                    type: 'linear', x: 0, y: 0, x2: 1, y2: 0,
                    colorStops: barStops.map(function (s, i) { return { offset: s, color: barColors[i] }; })
                }
            }
        },
        { type: 'rect', z: 10, shape: { x: 102, y: 1210, width: 70, height: 42 }, style: { fill: '#cccccc' } },
        label('keine Daten', 188, 1214, '40px "Open Sans"', GREY, 0.92),
        label('Quelle: Transparency International', 1374, 1354, '40px "Open Sans"', GREY, 0.912, 'right')
    ]
});
</script>
</body>
</html>
